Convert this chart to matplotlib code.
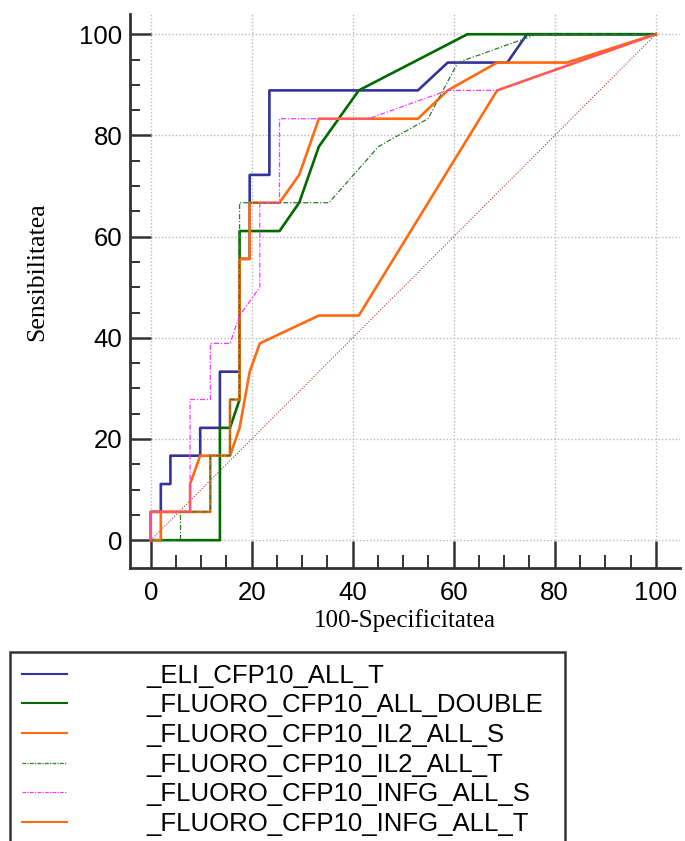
import numpy as np
import matplotlib
matplotlib.use('Agg')
import matplotlib.pyplot as plt
from matplotlib.lines import Line2D
from matplotlib.patches import Rectangle

# ROC points (100-Specificity, Sensitivity) for each test
eli_t_x = [0, 0, 2.0, 2.0, 3.9, 3.9, 9.8, 9.8, 13.7, 13.7, 17.6, 17.6, 19.6, 19.6, 23.5, 23.5, 52.9, 58.8, 70.6, 74.5, 100]
eli_t_y = [0, 5.6, 5.6, 11.1, 11.1, 16.7, 16.7, 22.2, 22.2, 33.3, 33.3, 55.6, 55.6, 72.2, 72.2, 88.9, 88.9, 94.4, 94.4, 100, 100]

double_x = [0, 13.7, 13.7, 15.7, 17.6, 17.6, 25.5, 29.4, 33.3, 41.2, 62.7, 100]
double_y = [0, 0, 22.2, 22.2, 27.8, 61.1, 61.1, 66.7, 77.8, 88.9, 100, 100]

il2_s_x = [0, 0, 7.8, 7.8, 9.8, 15.7, 15.7, 17.6, 17.6, 19.6, 19.6, 25.5, 29.4, 33.3, 52.9, 58.8, 68.6, 82.4, 100]
il2_s_y = [0, 5.6, 5.6, 11.1, 16.7, 16.7, 27.8, 27.8, 55.6, 55.6, 66.7, 66.7, 72.2, 83.3, 83.3, 88.9, 94.4, 94.4, 100]

il2_t_x = [0, 5.9, 5.9, 11.8, 11.8, 15.7, 15.7, 17.6, 17.6, 35.3, 45.1, 54.9, 60.8, 76.5, 100]
il2_t_y = [0, 0, 5.6, 5.6, 16.7, 16.7, 27.8, 27.8, 66.7, 66.7, 77.8, 83.3, 94.4, 100, 100]

infg_s_x = [0, 0, 7.8, 7.8, 11.8, 11.8, 15.7, 17.6, 21.6, 21.6, 25.5, 25.5, 43.1, 58.8, 68.6, 100]
infg_s_y = [0, 5.6, 5.6, 27.8, 27.8, 38.9, 38.9, 44.4, 50.0, 66.7, 66.7, 83.3, 83.3, 88.9, 88.9, 100]

infg_t_x = [0, 2.0, 2.0, 11.8, 11.8, 15.7, 17.6, 19.6, 21.6, 33.3, 41.2, 68.6, 100]
infg_t_y = [0, 0, 5.6, 5.6, 16.7, 16.7, 22.2, 33.3, 38.9, 44.4, 44.4, 88.9, 100]

labels = ['_ELI_CFP10_ALL_T', '_FLUORO_CFP10_ALL_DOUBLE', '_FLUORO_CFP10_IL2_ALL_S',
          '_FLUORO_CFP10_IL2_ALL_T', '_FLUORO_CFP10_INFG_ALL_S', '_FLUORO_CFP10_INFG_ALL_T']

blue = '#333399'
green = '#006a00'
orange = '#ff6a10'
dgreen = '#2a7a2a'
magenta = '#ff33ff'
axcol = '#333333'

fig = plt.figure(figsize=(6.85, 8.41), dpi=100)
ax = fig.add_axes([130/685, 1-568/841, 550/685, 554/841])
ax.set_xlim(-4.1, 104.8)
ax.set_ylim(-5.5, 104)

# dotted grid only over the data range
grid = np.arange(0, 101, 20)
ax.hlines(grid, 0, 104.8, colors='#b8b8b8', linestyles=(0, (1, 1.5)), lw=1.0, zorder=0)
ax.vlines(grid, 0, 104, colors='#b8b8b8', linestyles=(0, (1, 1.5)), lw=1.0, zorder=0)

# chance line
ax.plot([0, 100], [0, 100], color='#b03838', lw=0.8, ls=(0, (1, 1.5)), zorder=1)

ax.plot(eli_t_x, eli_t_y, color=blue, lw=1.9, zorder=2)
ax.plot(double_x, double_y, color=green, lw=1.9, zorder=3)
ax.plot(il2_s_x, il2_s_y, color=orange, lw=1.9, zorder=4)
ax.plot(infg_t_x, infg_t_y, color=orange, lw=1.9, zorder=5)
ax.plot(il2_t_x, il2_t_y, color=dgreen, lw=0.9, ls=(0, (4, 1.5, 1, 1.5)), zorder=6)
ax.plot(infg_s_x, infg_s_y, color=magenta, lw=0.9, ls=(0, (4, 1.5, 1, 1.5)), zorder=7)

for s in ['top', 'right']:
    ax.spines[s].set_visible(False)
for s in ['left', 'bottom']:
    ax.spines[s].set_linewidth(2.0)
    ax.spines[s].set_color(axcol)

ax.set_xticks(grid)
ax.set_yticks(grid)
ax.set_xticks(np.arange(0, 101, 5), minor=True)
ax.set_yticks(np.arange(0, 101, 5), minor=True)
ax.tick_params(axis='y', which='major', direction='in', length=14.9, width=1.8, color=axcol, pad=5.5)
ax.tick_params(axis='y', which='minor', direction='in', length=7.2, width=1.4, color=axcol)
ax.tick_params(axis='x', which='major', direction='in', length=19.4, width=1.8, color=axcol, pad=9)
ax.tick_params(axis='x', which='minor', direction='in', length=9.5, width=1.4, color=axcol)
for t in ax.get_xticklabels() + ax.get_yticklabels():
    t.set_fontfamily('Liberation Sans')
    t.set_fontsize(18.5)

fig.text(37/685, 1-272/841, 'Sensibilitatea', rotation=90, ha='center', va='center',
         family='Liberation Serif', fontsize=18.5)
fig.text(405/685, 1-621/841, '100-Specificitatea', ha='center', va='center',
         family='Liberation Serif', fontsize=18)

legend_elements = [Line2D([0], [0], color=blue, lw=1.5),
                   Line2D([0], [0], color=green, lw=1.5),
                   Line2D([0], [0], color=orange, lw=1.5),
                   Line2D([0], [0], color=dgreen, lw=0.9, ls=(0, (3, 1, 1, 1))),
                   Line2D([0], [0], color=magenta, lw=0.9, ls=(0, (3, 1, 1, 1))),
                   Line2D([0], [0], color=orange, lw=1.5)]
lg = fig.legend(handles=legend_elements, labels=labels, loc='upper left',
                bbox_to_anchor=(10/685, 1-652/841), borderaxespad=0,
                prop={'family': 'Liberation Sans', 'size': 18.5},
                handlelength=1.75, handletextpad=3.1, borderpad=0.45,
                labelspacing=0.22, frameon=False)

# legend box runs off the bottom edge of the figure
fig.patches.append(Rectangle((10/685, -0.02), 555/685, (841-652)/841 + 0.02,
                             transform=fig.transFigure, fill=False, ec=axcol, lw=1.8))

fig.savefig('out.png', dpi=100)
